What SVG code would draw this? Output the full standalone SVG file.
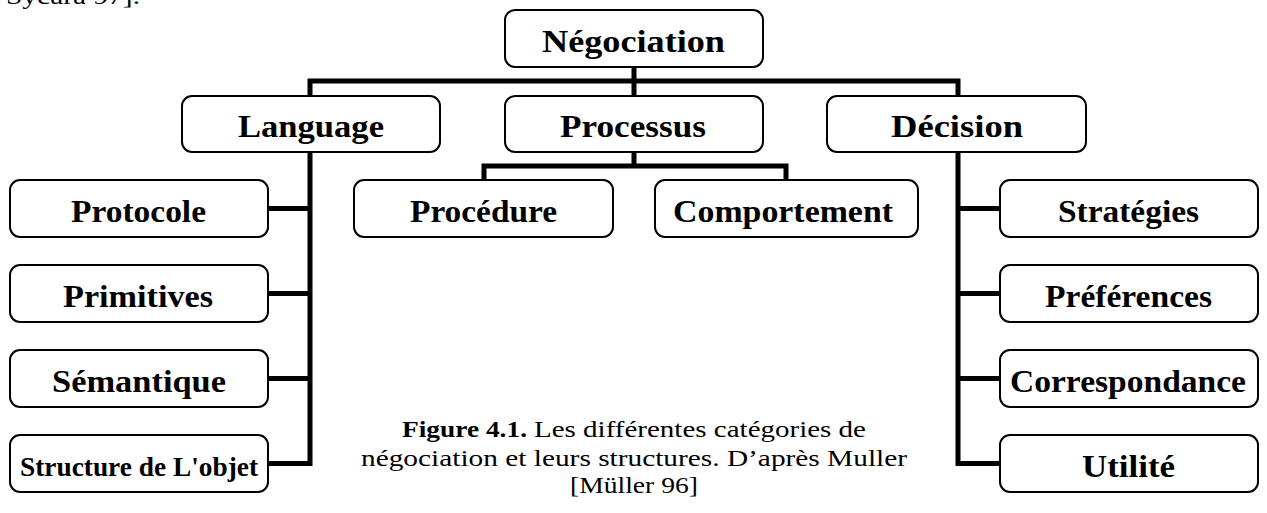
<svg xmlns="http://www.w3.org/2000/svg" width="1267" height="513" viewBox="0 0 1267 513">
  <style>
    .box { fill: #ffffff; stroke: #000000; stroke-width: 2; }
    .lbl { font-family: "Liberation Serif", "DejaVu Serif", serif; font-weight: bold; font-size: 32px; fill: #000000; }
    .small { font-size: 27px; }
    .cap { font-family: "Liberation Serif", "DejaVu Serif", serif; font-size: 23px; fill: #000000; }
    .link { fill: none; stroke: #000000; stroke-width: 5; stroke-linejoin: miter; stroke-linecap: butt; }
  </style>
  <rect width="1267" height="513" fill="#ffffff"/>

  <!-- tail of the preceding paragraph, cut by the top edge -->
  <text class="cap" x="6" y="4" textLength="134" lengthAdjust="spacingAndGlyphs">Sycara 97].</text>

  <!-- connectors -->
  <g id="connectors">
    <!-- root to first level -->
    <path class="link" d="M634,67 V96 M310,96 V81 H958 V96"/>
    <!-- Processus to its children -->
    <path class="link" d="M634,152 V166 M484,180 V166 H786 V180"/>
    <!-- Language column -->
    <path class="link" d="M310,152 V463.5 H268 M268,208.5 H310 M268,293.5 H310 M268,378.5 H310"/>
    <!-- Décision column -->
    <path class="link" d="M958,152 V463.5 H1000 M958,208.5 H1000 M958,293.5 H1000 M958,378.5 H1000"/>
  </g>

  <g id="negociation">
    <rect class="box" x="505" y="10" width="258" height="57" rx="10"/>
    <text class="lbl" x="542" y="52" textLength="183" lengthAdjust="spacingAndGlyphs">Négociation</text>
  </g>

  <g id="language">
    <rect class="box" x="182" y="96" width="258" height="56" rx="10"/>
    <text class="lbl" x="238" y="137" textLength="146" lengthAdjust="spacingAndGlyphs">Language</text>
  </g>
  <g id="processus">
    <rect class="box" x="505" y="96" width="258" height="56" rx="10"/>
    <text class="lbl" x="560" y="137" textLength="146" lengthAdjust="spacingAndGlyphs">Processus</text>
  </g>
  <g id="decision">
    <rect class="box" x="827" y="96" width="259" height="56" rx="10"/>
    <text class="lbl" x="891" y="137" textLength="132" lengthAdjust="spacingAndGlyphs">Décision</text>
  </g>

  <g id="procedure">
    <rect class="box" x="354" y="180" width="259" height="57" rx="10"/>
    <text class="lbl" x="410" y="222" textLength="147" lengthAdjust="spacingAndGlyphs">Procédure</text>
  </g>
  <g id="comportement">
    <rect class="box" x="655" y="180" width="263" height="57" rx="10"/>
    <text class="lbl" x="673" y="222" textLength="220" lengthAdjust="spacingAndGlyphs">Comportement</text>
  </g>

  <g id="protocole">
    <rect class="box" x="10" y="180" width="258" height="57" rx="10"/>
    <text class="lbl" x="71" y="222" textLength="135" lengthAdjust="spacingAndGlyphs">Protocole</text>
  </g>
  <g id="primitives">
    <rect class="box" x="10" y="265" width="258" height="57" rx="10"/>
    <text class="lbl" x="63" y="307" textLength="150" lengthAdjust="spacingAndGlyphs">Primitives</text>
  </g>
  <g id="semantique">
    <rect class="box" x="10" y="350" width="258" height="57" rx="10"/>
    <text class="lbl" x="52" y="392" textLength="174" lengthAdjust="spacingAndGlyphs">Sémantique</text>
  </g>
  <g id="structure">
    <rect class="box" x="10" y="435" width="258" height="57" rx="10"/>
    <text class="lbl small" x="20" y="476" textLength="238" lengthAdjust="spacingAndGlyphs">Structure de L'objet</text>
  </g>

  <g id="strategies">
    <rect class="box" x="1000" y="180" width="258" height="57" rx="10"/>
    <text class="lbl" x="1058" y="222" textLength="141" lengthAdjust="spacingAndGlyphs">Stratégies</text>
  </g>
  <g id="preferences">
    <rect class="box" x="1000" y="265" width="258" height="57" rx="10"/>
    <text class="lbl" x="1045" y="307" textLength="167" lengthAdjust="spacingAndGlyphs">Préférences</text>
  </g>
  <g id="correspondance">
    <rect class="box" x="1000" y="350" width="258" height="57" rx="10"/>
    <text class="lbl" x="1010" y="392" textLength="236" lengthAdjust="spacingAndGlyphs">Correspondance</text>
  </g>
  <g id="utilite">
    <rect class="box" x="1000" y="435" width="258" height="57" rx="10"/>
    <text class="lbl" x="1082" y="477" textLength="93" lengthAdjust="spacingAndGlyphs">Utilité</text>
  </g>

  <!-- figure caption -->
  <g id="caption">
    <text class="cap" y="437"><tspan x="402" font-weight="bold" textLength="125" lengthAdjust="spacingAndGlyphs">Figure 4.1.</tspan><tspan x="534" textLength="332" lengthAdjust="spacingAndGlyphs">Les différentes catégories de</tspan></text>
    <text class="cap" x="361" y="466" textLength="546" lengthAdjust="spacingAndGlyphs">négociation et leurs structures. D’après Muller</text>
    <text class="cap" x="570" y="493" textLength="128" lengthAdjust="spacingAndGlyphs">[Müller 96]</text>
  </g>
</svg>
